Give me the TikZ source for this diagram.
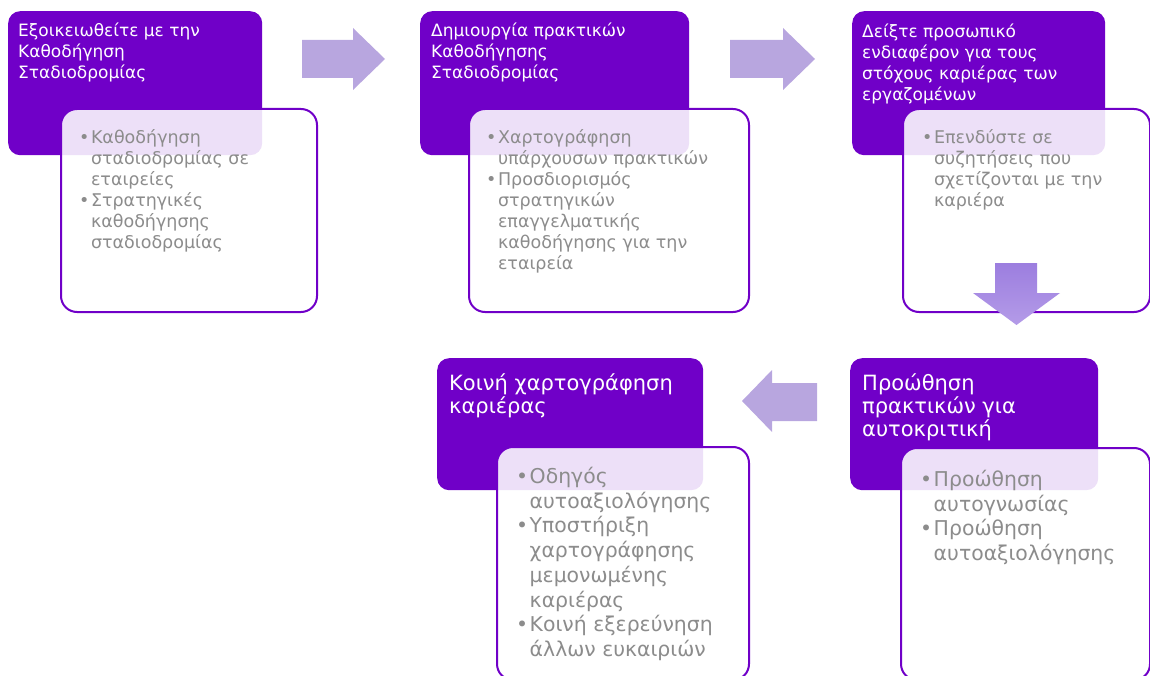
\documentclass[tikz,border=0pt]{standalone}
\usepackage{fontspec}
\setmainfont{DejaVu Sans}
\usetikzlibrary{positioning}
\definecolor{stepviolet}{HTML}{7000C8}
\definecolor{arrowlilac}{HTML}{B8A6DF}
\definecolor{downtop}{HTML}{9C7EDF}
\definecolor{downbottom}{HTML}{B49BE8}
\definecolor{notegray}{HTML}{8C8C8C}
\newcommand{\bitem}{\textbullet\hspace{1.5pt}}
\newcommand{\bcont}{\phantom{\textbullet}\hspace{1.5pt}}

\begin{document}
\begin{tikzpicture}[
  x=1pt,y=-1pt,
  headbox/.style={rectangle,rounded corners=12pt,fill=stepviolet,
                  anchor=north west,inner sep=0pt},
  notebox/.style={rectangle,rounded corners=16pt,fill=white,fill opacity=0.88,
                  draw=stepviolet,line width=2pt,anchor=north west,inner sep=0pt},
  headtext/.style={anchor=north west,align=left,inner sep=0pt,text=white,
                   font=\fontsize{17}{21}\selectfont},
  notetext/.style={anchor=north west,align=left,inner sep=0pt,text=notegray,
                   font=\fontsize{17.5}{21}\selectfont},
  bighead/.style={headtext,font=\fontsize{21}{23}\selectfont},
  bignote/.style={notetext,font=\fontsize{20.4}{24.7}\selectfont},
  flow/.style={fill=arrowlilac}
]
  \useasboundingbox (0,0) rectangle (1150,676);

  % boxes of the five steps
  \node[headbox,minimum width=254pt,minimum height=144pt] (h1) at (8,11) {};
  \node[notebox,minimum width=256pt,minimum height=203pt] (n1) at (60,108) {};
  \node[headbox,minimum width=269pt,minimum height=144pt] (h2) at (420,11) {};
  \node[notebox,minimum width=280pt,minimum height=203pt] (n2) at (468,108) {};
  \node[headbox,minimum width=253pt,minimum height=144pt] (h3) at (852,11) {};
  \node[notebox,minimum width=247pt,minimum height=203pt] (n3) at (902,108) {};
  \node[headbox,minimum width=248pt,minimum height=132pt] (h4) at (850,358) {};
  \node[notebox,minimum width=249pt,minimum height=232pt] (n4) at (900,447) {};
  \node[headbox,minimum width=266pt,minimum height=132pt] (h5) at (437,358) {};
  \node[notebox,minimum width=252pt,minimum height=233pt] (n5) at (496,446) {};

  % titles
  \node[headtext] (t1) at (18,23) {Εξοικειωθείτε με την\\Καθοδήγηση\\Σταδιοδρομίας};
  \node[headtext] (t2) at (431,23) {Δημιουργία πρακτικών\\Καθοδήγησης\\Σταδιοδρομίας};
  \node[headtext] (t3) at (862,24) {Δείξτε προσωπικό\\ενδιαφέρον για τους\\στόχους καριέρας των\\εργαζομένων};
  \node[bighead] (t4) at (862,374) {Προώθηση\\πρακτικών για\\αυτοκριτική};
  \node[bighead] (t5) at (449,374) {Κοινή χαρτογράφηση\\καριέρας};

  % bullet lists
  \node[notetext] (l1) at (79,129) {\bitem Καθοδήγηση\\\bcont σταδιοδρομίας σε\\\bcont εταιρείες\\
    \bitem Στρατηγικές\\\bcont καθοδήγησης\\\bcont σταδιοδρομίας};
  \node[notetext] (l2) at (486,129) {\bitem Χαρτογράφηση\\\bcont υπάρχουσων πρακτικών\\
    \bitem Προσδιορισμός\\\bcont στρατηγικών\\\bcont επαγγελματικής\\\bcont καθοδήγησης για την\\\bcont εταιρεία};
  \node[notetext] (l3) at (922,129) {\bitem Επενδύστε σε\\\bcont συζητήσεις που\\\bcont σχετίζονται με την\\\bcont καριέρα};
  \node[bignote] (l4) at (920,470) {\bitem Προώθηση\\\bcont αυτογνωσίας\\\bitem Προώθηση\\\bcont αυτοαξιολόγησης};
  \node[bignote] (l5) at (516,467) {\bitem Οδηγός\\\bcont αυτοαξιολόγησης\\\bitem Υποστήριξη\\\bcont χαρτογράφησης\\\bcont μεμονωμένης\\\bcont καριέρας\\
    \bitem Κοινή εξερεύνηση\\\bcont άλλων ευκαιριών};

  % block arrows between steps
  \fill[flow] (302,40) -- (353,40) -- (353,28) -- (385,59) -- (353,90) -- (353,78) -- (302,78) -- cycle;
  \fill[flow] (730,40) -- (783,40) -- (783,28) -- (815,59) -- (783,90) -- (783,78) -- (730,78) -- cycle;
  \shade[top color=downtop,bottom color=downbottom]
    (995,263) -- (1037,263) -- (1037,293) -- (1060,293) -- (1016.5,325) -- (973,293) -- (995,293) -- cycle;
  \fill[flow] (817,383) -- (772,383) -- (772,370) -- (742,401) -- (772,432) -- (772,421) -- (817,421) -- cycle;
\end{tikzpicture}
\end{document}
